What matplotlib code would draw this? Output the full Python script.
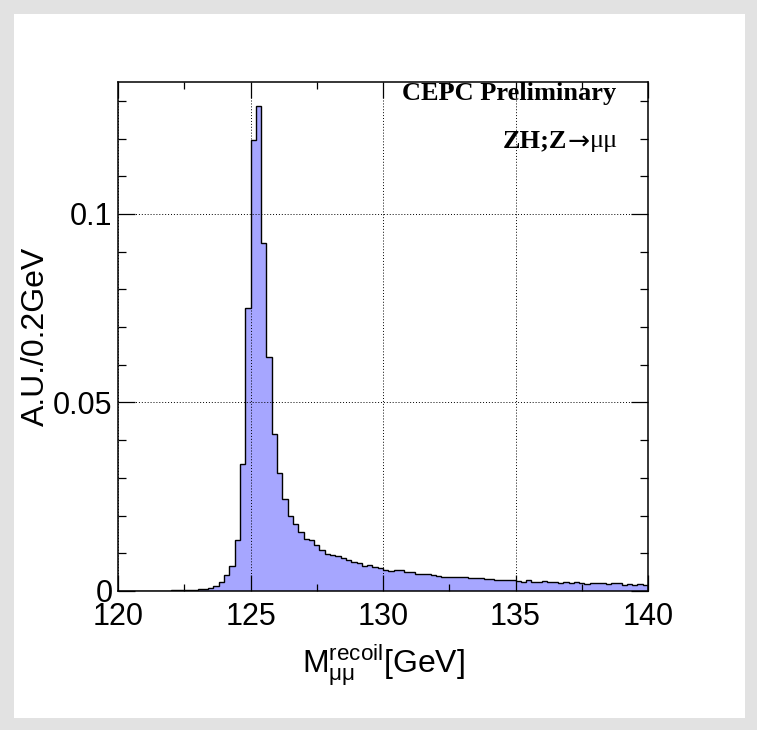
import numpy as np
import matplotlib
matplotlib.use('Agg')
import matplotlib.pyplot as plt
from matplotlib.patches import Rectangle
from matplotlib.ticker import MultipleLocator, FixedLocator, FixedFormatter

# Du lieu: recoil mass, 100 bins 0.2 GeV tu 120 den 140
x_min, x_max, bin_width = 120.0, 140.0, 0.2
edges = np.arange(x_min, x_max + bin_width / 2, bin_width)

values = [
    0, 0, 0, 0.0001, 0, 0.0001, 0, 0.0001, 0.0001, 0.0001,
    0.0002, 0.0002, 0.00025, 0.0003, 0.0003, 0.00044, 0.0006, 0.0009, 0.0013, 0.0024,
    0.0043, 0.0065, 0.0135, 0.0338, 0.0751, 0.1196, 0.1287, 0.0924, 0.0621, 0.0416,
    0.0314, 0.0245, 0.0198, 0.0177, 0.0156, 0.0139, 0.0134, 0.0121, 0.0110, 0.0097,
    0.0095, 0.0092, 0.0088, 0.0081, 0.0077, 0.0073, 0.0067, 0.0068, 0.0064, 0.0062,
    0.0055, 0.0052, 0.0056, 0.0055, 0.0051, 0.0050, 0.0046, 0.0045, 0.0044, 0.0043,
    0.0040, 0.0036, 0.0037, 0.0038, 0.0037, 0.0038, 0.0034, 0.0034, 0.0035, 0.0031,
    0.0032, 0.0030, 0.0028, 0.0028, 0.0028, 0.0027, 0.0023, 0.0028, 0.0025, 0.0024,
    0.0026, 0.0025, 0.0024, 0.0022, 0.0024, 0.0021, 0.0023, 0.0022, 0.0019, 0.0021,
    0.0021, 0.0021, 0.0019, 0.0021, 0.0022, 0.0017, 0.0018, 0.0017, 0.0019, 0.0017,
]

x_ticks = [120, 125, 130, 135, 140]
x_tick_labels = ['120', '125', '130', '135', '140']
y_ticks = [0, 0.05, 0.1]
y_tick_labels = ['0', '0.05', '0.1']

plt.rcParams['font.family'] = ['Liberation Sans', 'DejaVu Sans']
plt.rcParams['mathtext.fontset'] = 'custom'
plt.rcParams['mathtext.rm'] = 'Liberation Sans'
plt.rcParams['mathtext.it'] = 'Liberation Sans'

serif = ['Liberation Serif', 'DejaVu Serif']

fig = plt.figure(figsize=(7.57, 7.30), dpi=100, facecolor='#e2e2e2')
# nen trang ben trong vien xam
fig.patches.append(Rectangle((14 / 757, 12 / 730), (745 - 14) / 757, (716 - 12) / 730,
                             transform=fig.transFigure, facecolor='white',
                             edgecolor='none', zorder=-10))

ax = fig.add_axes([118 / 757, 139 / 730, 530 / 757, 509 / 730])

# Histogram kieu ROOT
ax.stairs(values, edges, fill=True, color='#a6a6ff', zorder=2)
ax.stairs(values, edges, color='black', linewidth=1.0, zorder=3)

ax.set_xlim(x_min, x_max)
ax.set_ylim(0, 0.135)

ax.xaxis.set_major_locator(FixedLocator(x_ticks))
ax.xaxis.set_major_formatter(FixedFormatter(x_tick_labels))
ax.xaxis.set_minor_locator(MultipleLocator(2.5))
ax.yaxis.set_major_locator(FixedLocator(y_ticks))
ax.yaxis.set_major_formatter(FixedFormatter(y_tick_labels))
ax.yaxis.set_minor_locator(MultipleLocator(0.01))

ax.tick_params(which='both', direction='in', top=True, right=True, width=0.9, colors='black')
ax.tick_params(axis='x', which='major', length=11.5, labelsize=22, pad=8)
ax.tick_params(axis='x', which='minor', length=5)
ax.tick_params(axis='y', which='major', length=12, labelsize=22, pad=4)
ax.tick_params(axis='y', which='minor', length=5.5)

# luoi cham, ve phia tren histogram
ax.set_axisbelow(False)
ax.grid(True, which='major', color='black', linestyle=(0, (1, 2)), linewidth=0.7, zorder=4)

for s in ax.spines.values():
    s.set_linewidth(1.1)
    s.set_zorder(5)

ax.set_ylabel('A.U./0.2GeV', fontsize=23)
ax.yaxis.set_label_coords(-0.126, 0.5)
ax.set_xlabel(r'$\mathrm{M}^{\mathrm{recoil}}_{\mathrm{\mu\mu}}$[GeV]', fontsize=23)
ax.xaxis.set_label_coords(0.5, -0.1)

ax.text(0.94, 0.965, 'CEPC Preliminary', transform=ax.transAxes, ha='right', va='baseline',
        fontsize=19, fontweight='bold', family=serif, zorder=6)
# ZH;Z->mumu: ghep tu 3 doan, mu khong dam
mu = ax.text(0.943, 0.862, 'μμ', transform=ax.transAxes, ha='right', va='bottom',
             fontsize=19, family=serif, zorder=6)
arrow = ax.annotate('→', xy=(0, 0), xycoords=mu, xytext=(0, -2.5), textcoords='offset points',
                    ha='right', va='bottom', fontsize=19, family=['DejaVu Sans'], zorder=6)
ax.annotate('ZH;Z', xy=(0, 0), xycoords=arrow, xytext=(0, 2.5), textcoords='offset points',
            ha='right', va='bottom', fontsize=19, fontweight='bold', family=serif, zorder=6)

fig.savefig('out.png', dpi=100, facecolor=fig.get_facecolor())
